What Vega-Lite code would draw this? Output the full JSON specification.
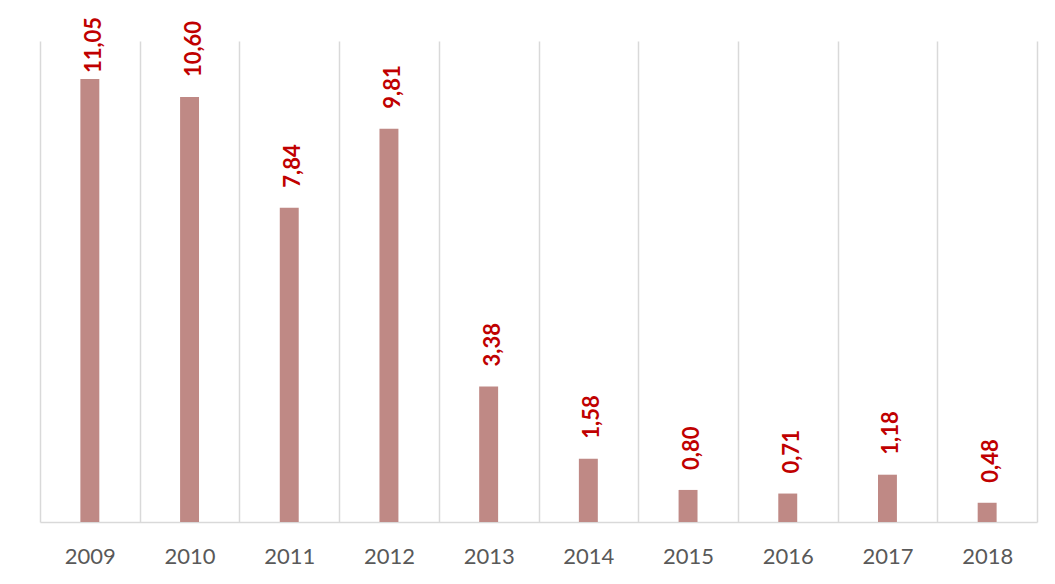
{
  "$schema": "https://vega.github.io/schema/vega-lite/v6.json",
  "width": 997,
  "height": 481,
  "autosize": {"type": "none"},
  "padding": {"left": 40, "top": 41, "right": 18, "bottom": 62},
  "background": "white",
  "config": {
    "view": {"stroke": null},
    "locale": {"number": {"decimal": ",", "thousands": ".", "grouping": [3], "currency": ["", " €"]}}
  },
  "data": {
    "values": [
      {"year": "2009", "value": 11.05},
      {"year": "2010", "value": 10.60},
      {"year": "2011", "value": 7.84},
      {"year": "2012", "value": 9.81},
      {"year": "2013", "value": 3.38},
      {"year": "2014", "value": 1.58},
      {"year": "2015", "value": 0.80},
      {"year": "2016", "value": 0.71},
      {"year": "2017", "value": 1.18},
      {"year": "2018", "value": 0.48}
    ]
  },
  "encoding": {
    "x": {
      "field": "year",
      "type": "ordinal",
      "scale": {"paddingInner": 0, "paddingOuter": 0},
      "axis": {
        "title": null,
        "labelAngle": 0,
        "grid": true,
        "tickBand": "extent",
        "gridColor": "#d9d9d9",
        "gridWidth": 1.5,
        "domainColor": "#d9d9d9",
        "domainWidth": 1.5,
        "ticks": false,
        "labelFont": "Lato",
        "labelFontSize": 22,
        "labelColor": "#595959",
        "labelPadding": 24
      }
    },
    "y": {
      "field": "value",
      "type": "quantitative",
      "scale": {"domain": [0, 12], "nice": false},
      "axis": null
    }
  },
  "layer": [
    {"mark": {"type": "bar", "color": "#BF8985", "width": {"band": 0.19}}},
    {
      "transform": [{"filter": "datum.value < 11"}],
      "mark": {
        "type": "text",
        "angle": 270,
        "align": "left",
        "baseline": "middle",
        "dx": 20,
        "dy": 4,
        "color": "#C00000",
        "font": "Lato",
        "fontWeight": "bold",
        "fontSize": 22
      },
      "encoding": {"text": {"field": "value", "type": "quantitative", "format": ".2f"}}
    },
    {
      "transform": [{"filter": "datum.value >= 11"}],
      "mark": {
        "type": "text",
        "angle": 270,
        "align": "left",
        "baseline": "middle",
        "dx": 6,
        "dy": 4,
        "color": "#C00000",
        "font": "Lato",
        "fontWeight": "bold",
        "fontSize": 22
      },
      "encoding": {"text": {"field": "value", "type": "quantitative", "format": ".2f"}}
    }
  ]
}
